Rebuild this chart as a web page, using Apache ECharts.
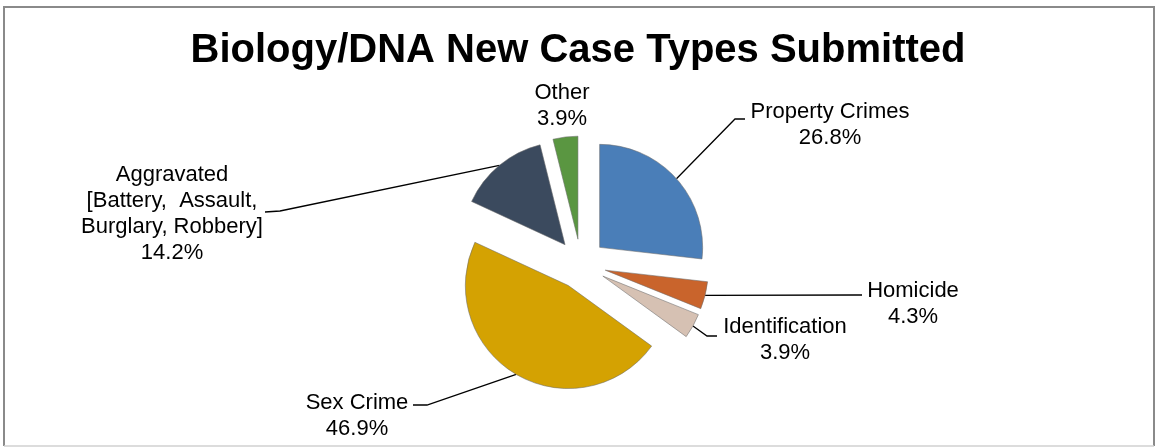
<!DOCTYPE html>
<html>
<head>
<meta charset="utf-8">
<title>Biology/DNA New Case Types Submitted</title>
<script src="https://cdn.jsdelivr.net/npm/echarts@6/dist/echarts.min.js"></script>
<style>
  html, body { margin: 0; padding: 0; background: #fff; }
  #chart { width: 1156px; height: 447px; }
</style>
</head>
<body>
<div id="chart"></div>
<script>
// case types, clockwise from 12 o'clock
const categories = [
  'Property Crimes',
  'Homicide',
  'Identification',
  'Sex Crime',
  'Aggravated\n[Battery,  Assault,\nBurglary, Robbery]',
  'Other'
];
// share of new cases, in percent
const shares = [26.8, 4.3, 3.9, 46.9, 14.2, 3.9];
const colors = ['#4a7eb8', '#c9642c', '#d6c1b3', '#d4a202', '#3b4a5e', '#5a9641'];

// where each label sits and how its leader line bends (styling only)
const labelSpots = [
  {x: 830, y: 125, line: [[735, 119], [745, 119]]},
  {x: 913, y: 304, line: [[855, 295], [862, 295]]},
  {x: 785, y: 340, line: [[707, 336], [717, 336]]},
  {x: 357, y: 416, line: [[427, 405], [413, 405]]},
  {x: 172, y: 214, line: [[280, 211], [265, 212]]},
  {x: 562, y: 106, line: null}
];

const pieCenter = [581, 264];
const pieRadius = 103;
const explode = 25;

const chart = echarts.init(document.getElementById('chart'));

const total = shares.reduce((s, v) => s + v, 0);
let acc = 0;
// one pie per slice so every slice can be pulled out along its own mid angle
const series = categories.map((name, i) => {
  const mid = (acc + shares[i] / 2) / total * Math.PI * 2;
  acc += shares[i];
  return {
    type: 'pie',
    silent: true,
    center: [pieCenter[0] + explode * Math.sin(mid), pieCenter[1] - explode * Math.cos(mid)],
    radius: pieRadius,
    startAngle: 90,
    clockwise: true,
    avoidLabelOverlap: false,
    emphasis: {disabled: true},
    label: {
      position: 'outside',
      fontFamily: 'Liberation Sans, Arial, sans-serif',
      fontSize: 22,
      lineHeight: 26,
      color: '#000',
      formatter: p => p.name + '\n' + p.value.toFixed(1) + '%'
    },
    labelLine: {lineStyle: {color: '#000', width: 1.3}},
    labelLayout: params => {
      const spot = labelSpots[params.dataIndex];
      const out = {x: spot.x, y: spot.y, align: 'center', verticalAlign: 'middle'};
      if (spot.line && params.labelLinePoints) {
        out.labelLinePoints = [params.labelLinePoints[0]].concat(spot.line);
      }
      return out;
    },
    data: categories.map((n, j) => ({
      name: n,
      value: shares[j],
      itemStyle: j === i
        ? {color: colors[j], borderColor: 'rgba(110,110,110,0.55)', borderWidth: 1}
        : {color: 'rgba(0,0,0,0)', borderWidth: 0},
      label: {show: j === i},
      labelLine: {show: j === i && labelSpots[j].line !== null}
    }))
  };
});

const option = {
  animation: false,
  title: {
    text: 'Biology/DNA New Case Types Submitted',
    left: 'center',
    top: 31,
    padding: 0,
    textStyle: {
      fontFamily: 'Liberation Sans, Arial, sans-serif',
      fontSize: 40,
      fontWeight: 'bold',
      color: '#000'
    }
  },
  graphic: [
    {
      // chart frame: dark on three sides
      type: 'polyline',
      shape: {points: [[4, 446], [4, 7], [1154, 7], [1154, 446]]},
      style: {fill: 'none', stroke: '#8a8a8a', lineWidth: 2},
      silent: true,
      z: -1
    },
    {
      type: 'line',
      shape: {x1: 4, y1: 446, x2: 1154, y2: 446},
      style: {stroke: '#d0d0d0', lineWidth: 1.5},
      silent: true,
      z: -1
    }
  ],
  series: series
};

chart.setOption(option);
</script>
</body>
</html>
